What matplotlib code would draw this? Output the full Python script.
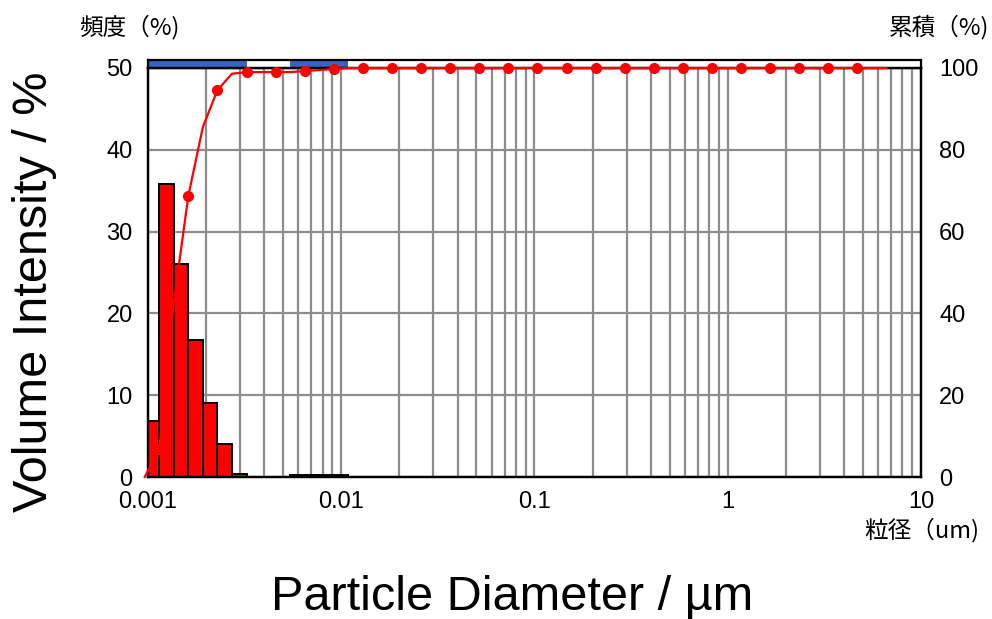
import numpy as np
import matplotlib
matplotlib.use("Agg")
import matplotlib.pyplot as plt

plt.rcParams['font.family'] = ['Liberation Sans', 'Noto Sans CJK JP', 'DejaVu Sans']

# channel edges (um) and volume frequency (%) per channel
edges = [0.000962, 0.001144, 0.001360, 0.001618, 0.001924, 0.002288, 0.002721,
         0.003236, 0.003848, 0.004576, 0.005442, 0.006472, 0.007696, 0.009152, 0.010884]
freq = [6.9, 35.8, 26.1, 16.8, 9.0, 4.0, 0.4, 0.0, 0.0, 0.0, 0.25, 0.25, 0.25, 0.25]

# cumulative curve (%)
cum_d = [0.000962, 0.001144, 0.001360, 0.001618, 0.001924, 0.002288, 0.002721,
         0.003236, 0.003848, 0.004576, 0.005442, 0.006472, 0.007696, 0.009152,
         0.010884, 0.012943, 0.018304, 0.025886, 0.036608, 0.051772, 0.073216,
         0.103543, 0.146432, 0.207087, 0.292864, 0.414173, 0.585728, 0.828347,
         1.171456, 1.656694, 2.342912, 3.313388, 4.685824, 6.626776]
cum_pct = [0.0, 6.9, 42.7, 68.8, 85.6, 94.6, 98.6,
           99.0, 99.0, 99.0, 99.0, 99.25, 99.5, 99.75,
           100.0, 100.0, 100.0, 100.0, 100.0, 100.0, 100.0,
           100.0, 100.0, 100.0, 100.0, 100.0, 100.0, 100.0,
           100.0, 100.0, 100.0, 100.0, 100.0, 100.0]
dot_idx = [1, 3, 5, 7, 9, 11, 13] + list(range(15, 33))

xticks = [0.001, 0.01, 0.1, 1, 10]
xticklabels = ['0.001', '0.01', '0.1', '1', '10']

edges = np.array(edges)
widths = np.diff(edges)
freq = np.array(freq)

fig = plt.figure(figsize=(9.92, 6.19), dpi=100)
ax = fig.add_axes([148/992, 1 - 477/619, 773/992, 409/619])
strip = fig.add_axes([148/992, 1 - 68/619, 773/992, 8/619], sharex=ax)

gray = '#8c8c8c'
ax.set_xscale('log')
ax.set_xlim(0.001, 10)
ax.set_ylim(0, 50)
ax.set_yticks([0, 10, 20, 30, 40, 50])
ax.set_xticks(xticks)
ax.set_xticklabels(xticklabels)
ax.grid(True, which='both', axis='x', color=gray, lw=1.6)
ax.grid(True, which='major', axis='y', color=gray, lw=1.6)
ax.set_axisbelow(True)
ax.tick_params(which='both', length=0, labelsize=17)
ax.tick_params(axis='y', pad=11)
ax.tick_params(axis='x', pad=10)

ax.bar(edges[:-1], freq, width=widths, align='edge', color='#ff0000',
       edgecolor='black', linewidth=1.4, zorder=2)

ax2 = ax.twinx()
ax2.set_ylim(0, 100)
ax2.set_yticks([0, 20, 40, 60, 80, 100])
ax2.tick_params(length=0, labelsize=17, pad=13)
ax2.plot(cum_d, cum_pct, color='#ff0000', lw=1.6, marker='o', ms=7,
         markevery=dot_idx, zorder=3, clip_on=False)
ax2.set_xlim(0.001, 10)

for a in (ax, ax2):
    for s in a.spines.values():
        s.set_linewidth(1.6)
        s.set_color('black')

# blue strip showing channels with nonzero frequency
strip.set_ylim(0, 1)
strip.bar(edges[:-1][freq > 0], 1, width=widths[freq > 0], align='edge',
          color='#3565c4', linewidth=0)
strip.set_xlim(0.001, 10)
strip.tick_params(which='both', length=0, labelbottom=False, labelleft=False)
for s in strip.spines.values():
    s.set_linewidth(1.6)

cjk = ['Noto Sans CJK JP', 'DejaVu Sans']
fig.text(35/992, 1 - 292/619, 'Volume Intensity / %', rotation=90,
         ha='center', va='center', fontsize=35)
fig.text(512/992, 1 - 598/619, 'Particle Diameter / µm',
         ha='center', va='center', fontsize=35)
fig.text(79/992, 1 - 27/619, '頻度（%)', ha='left', va='center', fontsize=17, family=cjk)
fig.text(889/992, 1 - 27/619, '累積（%)', ha='left', va='center', fontsize=17, family=cjk)
fig.text(864/992, 1 - 530/619, '粒径（um)', ha='left', va='center', fontsize=17, family=cjk)

fig.savefig('out.png', dpi=100)
